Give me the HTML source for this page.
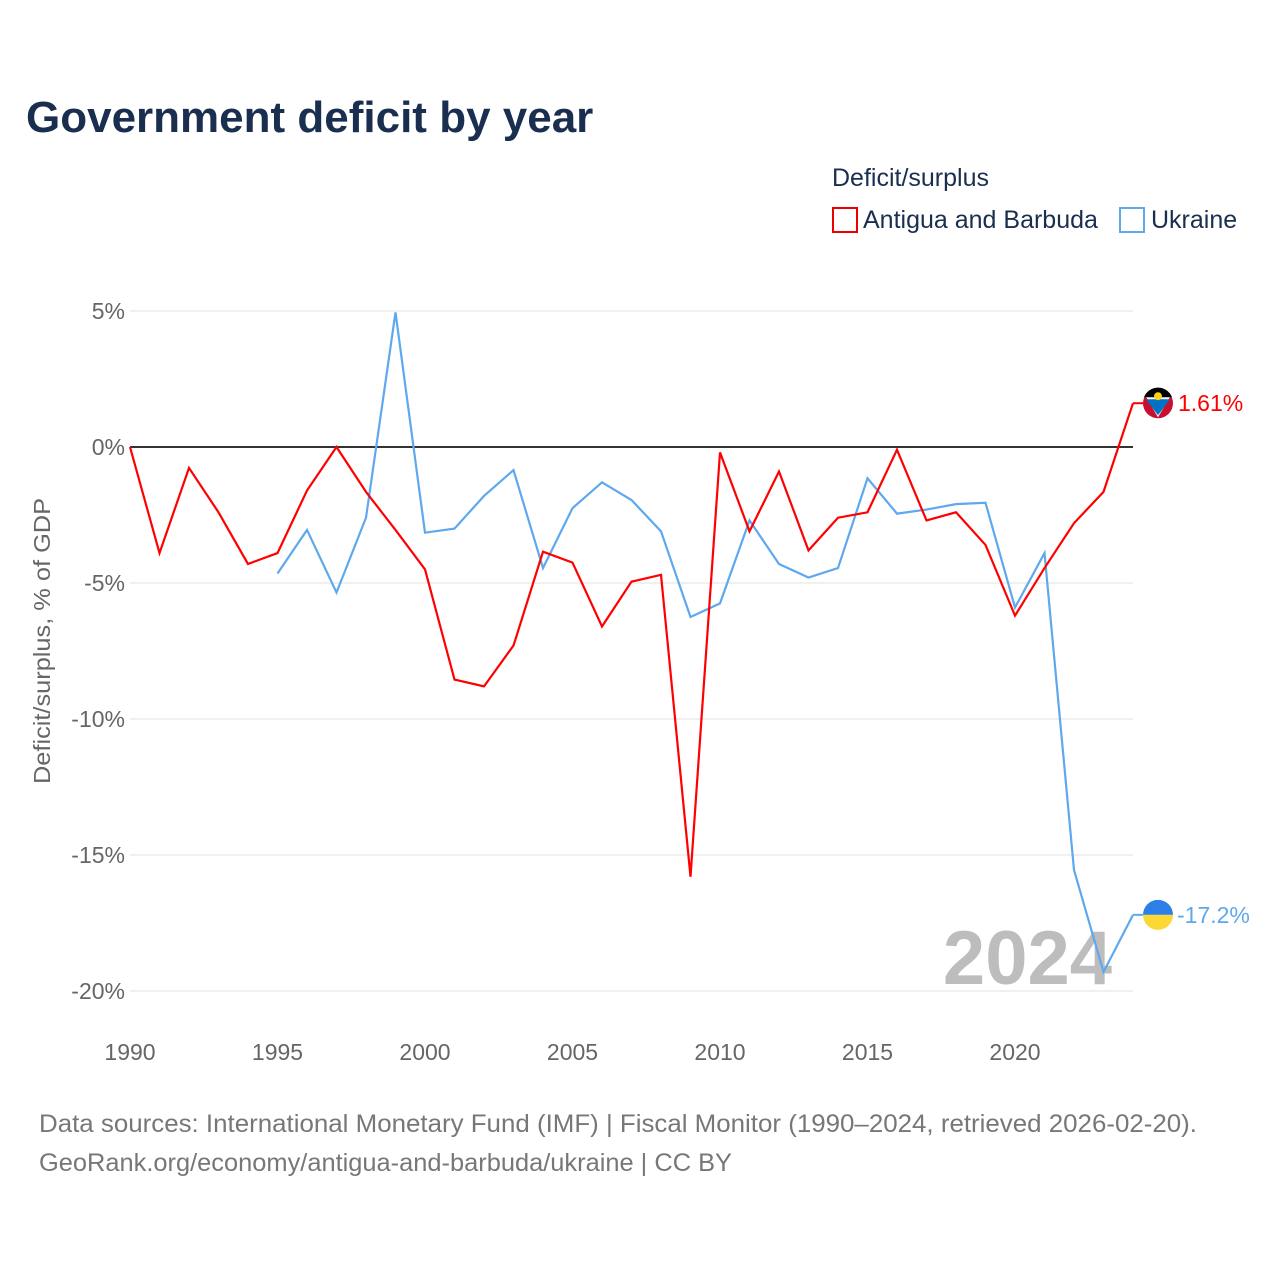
<!DOCTYPE html>
<html><head><meta charset="utf-8"><style>
body{margin:0;background:#fff;font-family:"Liberation Sans",sans-serif;}
#wrap{position:relative;width:1280px;height:1280px;overflow:hidden;}
</style></head><body>
<div id="wrap">
<svg id="chart" width="1280" height="1280"></svg>
</div>
<script>
const years = [1990,1991,1992,1993,1994,1995,1996,1997,1998,1999,2000,2001,2002,2003,2004,2005,2006,2007,2008,2009,2010,2011,2012,2013,2014,2015,2016,2017,2018,2019,2020,2021,2022,2023,2024];
const antigua = [0,-3.9,-0.77,-2.4,-4.3,-3.9,-1.6,0,-1.65,-3.05,-4.5,-8.55,-8.8,-7.3,-3.85,-4.25,-6.6,-4.95,-4.7,-15.8,-0.2,-3.1,-0.9,-3.8,-2.6,-2.4,-0.1,-2.7,-2.4,-3.6,-6.2,-4.45,-2.8,-1.65,1.61];
const ukraineYears = [1995,1996,1997,1998,1999,2000,2001,2002,2003,2004,2005,2006,2007,2008,2009,2010,2011,2012,2013,2014,2015,2016,2017,2018,2019,2020,2021,2022,2023,2024];
const ukraine = [-4.65,-3.05,-5.35,-2.6,4.95,-3.15,-3.0,-1.8,-0.85,-4.45,-2.25,-1.3,-1.95,-3.1,-6.25,-5.75,-2.7,-4.3,-4.8,-4.45,-1.15,-2.45,-2.3,-2.1,-2.05,-5.9,-3.9,-15.55,-19.3,-17.2];
const yTicks = [5,0,-5,-10,-15,-20];
const yTickLabels = ["5%","0%","-5%","-10%","-15%","-20%"];
const xTicks = [1990,1995,2000,2005,2010,2015,2020];

const NS="http://www.w3.org/2000/svg";
const svg=document.getElementById('chart');
const X=y=>130+(y-1990)*(1133-130)/34;
const Y=v=>447-v*27.2;
function el(t,a,txt){const e=document.createElementNS(NS,t);for(const k in a)e.setAttribute(k,a[k]);if(txt!=null)e.textContent=txt;svg.appendChild(e);return e;}

let e;
e=el('text',{x:26,y:132,'font-size':44,'font-weight':'bold',fill:'#1a2e4f'},'Government deficit by year');


e=el('text',{x:832,y:186,'font-size':25,fill:'#1a2e4f'},'Deficit/surplus');


e=el('rect',{x:833,y:208,width:24,height:24,fill:'none',stroke:'#e00',"stroke-width":2});


e=el('text',{x:863,y:228,'font-size':25,fill:'#1a2e4f'},'Antigua and Barbuda');


e=el('rect',{x:1120,y:208,width:24,height:24,fill:'none',stroke:'#5ea8ee',"stroke-width":2});


e=el('text',{x:1151,y:228,'font-size':25,fill:'#1a2e4f'},'Ukraine');



yTicks.forEach((v,i)=>{
  e=el('line',{x1:130,x2:1133,y1:Y(v),y2:Y(v),stroke:v===0?'#333':'#e6e6e6','stroke-width':v===0?2:1.2});
  
  
  e=el('text',{x:125,y:Y(v)+8,'font-size':23,fill:'#666','text-anchor':'end'},yTickLabels[i]);
  
  
});
xTicks.forEach(t=>{
  e=el('text',{x:X(t),y:1060,'font-size':23,fill:'#666','text-anchor':'middle'},String(t));
  
  
});
e=el('text',{x:0,y:0,'font-size':23,fill:'#666','text-anchor':'middle',textLength:286,lengthAdjust:'spacingAndGlyphs',transform:'translate(50,641) rotate(-90)'},'Deficit/surplus, % of GDP');


e=el('text',{x:1112,y:984,'font-size':76,'font-weight':'bold',fill:'#bdbdbd','text-anchor':'end'},'2024');



e=el('polyline',{points:ukraineYears.map((y,i)=>X(y)+','+Y(ukraine[i])).join(' '),fill:'none',stroke:'#5ea8ee','stroke-width':2.2});


e=el('polyline',{points:years.map((y,i)=>X(y)+','+Y(antigua[i])).join(' '),fill:'none',stroke:'#f00','stroke-width':2.2});



const aL=antigua[antigua.length-1], uL=ukraine[ukraine.length-1];
e=el('circle',{cx:1158,cy:Y(aL),r:15,fill:'#c8102e'});


e=el('path',{d:`M1145 ${Y(aL)-8} L1171 ${Y(aL)-8} L1158 ${Y(aL)+14} Z`,fill:'#fff'});


e=el('path',{d:`M1146 ${Y(aL)-4} L1170 ${Y(aL)-4} L1158 ${Y(aL)+12} Z`,fill:'#0072c6'});


e=el('path',{d:`M1144 ${Y(aL)-6} L1172 ${Y(aL)-6} A15 15 0 0 0 1144 ${Y(aL)-6} Z`,fill:'#000'});


e=el('circle',{cx:1158,cy:Y(aL)-7,r:4,fill:'#fcd116'});


e=el('line',{x1:1133,x2:1143,y1:Y(aL),y2:Y(aL),stroke:'#f00','stroke-width':2});


e=el('text',{x:1178,y:Y(aL)+8,'font-size':23,fill:'#f00'},aL.toFixed(2)+'%');



e=el('path',{d:`M1143 ${Y(uL)} A15 15 0 0 1 1173 ${Y(uL)} Z`,fill:'#2d7fe8'});


e=el('path',{d:`M1143 ${Y(uL)} A15 15 0 0 0 1173 ${Y(uL)} Z`,fill:'#fdd835'});


e=el('line',{x1:1133,x2:1143,y1:Y(uL),y2:Y(uL),stroke:'#5ea8ee','stroke-width':2});


e=el('text',{x:1177,y:Y(uL)+8,'font-size':23,fill:'#5ea8ee'},uL.toFixed(1)+'%');



e=el('text',{x:39,y:1132,'font-size':25,fill:'#777',textLength:1158,lengthAdjust:'spacingAndGlyphs'},'Data sources: International Monetary Fund (IMF) | Fiscal Monitor (1990–2024, retrieved 2026-02-20).');


e=el('text',{x:39,y:1171,'font-size':25,fill:'#777',textLength:693,lengthAdjust:'spacingAndGlyphs'},'GeoRank.org/economy/antigua-and-barbuda/ukraine | CC BY');


</script>
</body></html>
